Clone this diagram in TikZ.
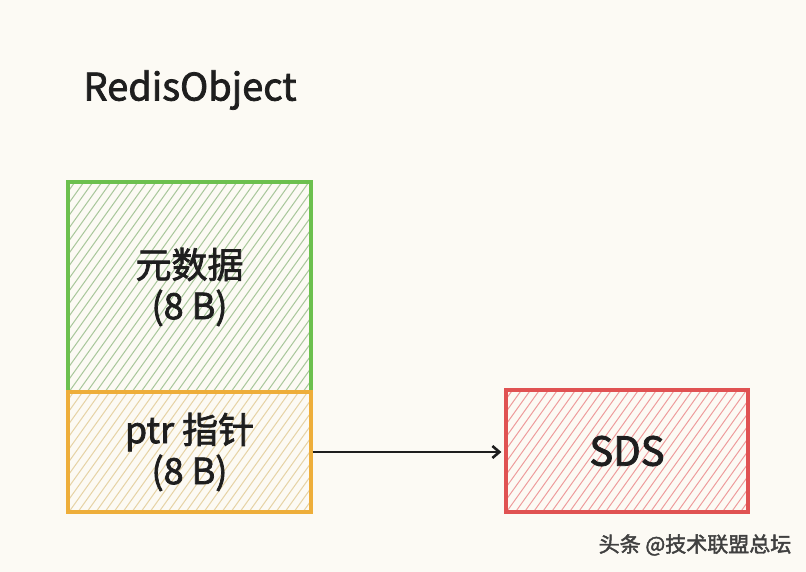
\documentclass[tikz,border=0pt]{standalone}
\usepackage{fontspec}
\setmainfont{Noto Sans CJK SC}[UprightFeatures={FakeBold=2}]
\usetikzlibrary{arrows.meta}
\definecolor{bg}{HTML}{FCFAF4}
\definecolor{gstroke}{HTML}{6CC04E}
\definecolor{ghatch}{HTML}{A9C79B}
\definecolor{ystroke}{HTML}{EEAE3A}
\definecolor{yhatch}{HTML}{E6D3A5}
\definecolor{rstroke}{HTML}{E05252}
\definecolor{rhatch}{HTML}{EE9C9C}
\definecolor{ink}{HTML}{1E1E1E}
\tikzset{
  hatch/.style={path picture={
    \foreach \i in {-320,-311,...,320}{
      \draw[#1,line width=1pt] ([xshift=\i pt,yshift=-2pt]path picture bounding box.south) -- ++(200pt,280pt);
    }}},
  boxs/.style 2 args={draw=#1,line width=3.2pt,hatch=#2,inner sep=0pt,text=ink,align=center,font=\fontsize{36}{41}\selectfont},
}
\begin{document}
\begin{tikzpicture}[x=1pt,y=-1pt]
\fill[bg] (0,0) rectangle (806,572);
\useasboundingbox (0,0) rectangle (806,572);
\node[font=\fontsize{38}{44}\selectfont,text=ink] (title) at (190,90) {RedisObject};
\node[boxs={gstroke}{ghatch},minimum width=243pt,minimum height=210pt] (meta) at (189.5,287) {元数据\\(8 B)};
\node[boxs={ystroke}{yhatch},minimum width=243pt,minimum height=120pt] (ptr) at (189.5,452) {ptr 指针\\(8 B)};
\node[boxs={rstroke}{rhatch},minimum width=242pt,minimum height=122pt,font=\fontsize{40}{44}\selectfont] (sds) at (627,451) {SDS};
\draw[ink,line width=2.6pt,-{Straight Barb[length=7pt,width=12pt,line width=2.6pt]}] (ptr.east) -- ([xshift=-3pt]sds.west |- ptr.east);
\node[font=\fontsize{21}{24}\selectfont,text=ink!85] (wm) at (695,545) {头条 @技术联盟总坛};
\end{tikzpicture}
\end{document}
